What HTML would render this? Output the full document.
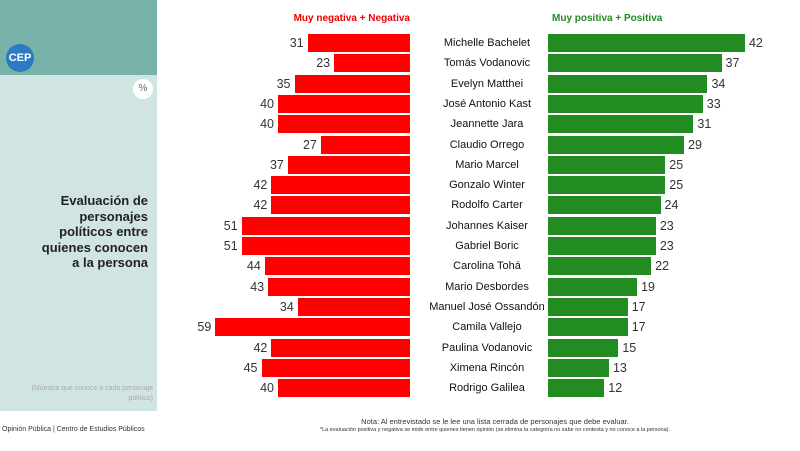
<!DOCTYPE html><html><head><meta charset="utf-8"><style>
body{margin:0;width:800px;height:451px;background:#fff;position:relative;overflow:hidden;font-family:"Liberation Sans",sans-serif}
div{position:absolute}
.r{background:#fe0000;height:18px}
.g{background:#228b22;height:18px}
.v{font-size:12.5px;color:#333;line-height:18px}
.n{font-size:11px;color:#111;line-height:18px;width:140px;left:417px;text-align:center}
</style></head><body>
<div style="left:0;top:0;width:157px;height:75px;background:#77b3a9"></div>
<div style="left:0;top:75px;width:157px;height:336px;background:#d0e5e1"></div>
<div style="left:6px;top:44px;width:28px;height:28px;border-radius:50%;background:#2a7bc2;color:#fff;font-size:11px;font-weight:bold;line-height:28px;text-align:center">CEP</div>
<div style="left:133px;top:79px;width:20px;height:20px;border-radius:50%;background:#fff;color:#666;font-size:10px;line-height:20px;text-align:center">%</div>
<div style="left:40px;top:193px;width:108px;text-align:right;font-size:13px;font-weight:bold;line-height:15.5px;color:#222">Evaluación de personajes políticos entre quienes conocen a la persona</div>
<div style="left:30px;top:384px;width:123px;text-align:right;font-size:7px;line-height:10px;color:#aaa">(Muestra que conoce a cada personaje político)</div>
<div style="left:2px;top:426px;font-size:7px;color:#333">Opinión Pública | Centro de Estudios Públicos</div>
<div style="left:250px;top:417px;width:490px;text-align:center;font-size:7.5px;color:#333">Nota: Al entrevistado se le lee una lista cerrada de personajes que debe evaluar.</div>
<div style="left:180px;top:427px;width:630px;text-align:center;font-size:5.5px;color:#333">*La evaluación positiva y negativa se mide entre quienes tienen opinión (se elimina la categoría no sabe no contesta y no conoce a la persona).</div>
<div style="left:250px;top:13px;width:160px;text-align:right;font-size:10px;font-weight:bold;color:#e00">Muy negativa + Negativa</div>
<div style="left:552px;top:13px;font-size:10px;font-weight:bold;color:#228b22">Muy positiva + Positiva</div>
<div id="rows"></div>
<script>
var d=[["Michelle Bachelet",31,42],["Tomás Vodanovic",23,37],["Evelyn Matthei",35,34],["José Antonio Kast",40,33],["Jeannette Jara",40,31],["Claudio Orrego",27,29],["Mario Marcel",37,25],["Gonzalo Winter",42,25],["Rodolfo Carter",42,24],["Johannes Kaiser",51,23],["Gabriel Boric",51,23],["Carolina Tohá",44,22],["Mario Desbordes",43,19],["Manuel José Ossandón",34,17],["Camila Vallejo",59,17],["Paulina Vodanovic",42,15],["Ximena Rincón",45,13],["Rodrigo Galilea",40,12]];
var h="";d.forEach(function(r,i){var t=34+i*20.3,w=r[1]*3.3,gw=r[2]*4.69;
h+='<div class="r" style="top:'+t+'px;left:'+(410-w)+'px;width:'+w+'px"></div>';
h+='<div class="v" style="top:'+t+'px;left:'+(410-w-40)+'px;width:36px;text-align:right">'+r[1]+'</div>';
h+='<div class="n" style="top:'+t+'px">'+r[0]+'</div>';
h+='<div class="g" style="top:'+t+'px;left:548px;width:'+gw+'px"></div>';
h+='<div class="v" style="top:'+t+'px;left:'+(548+gw+4)+'px">'+r[2]+'</div>';});
document.getElementById("rows").innerHTML=h;
</script>
</body></html>
